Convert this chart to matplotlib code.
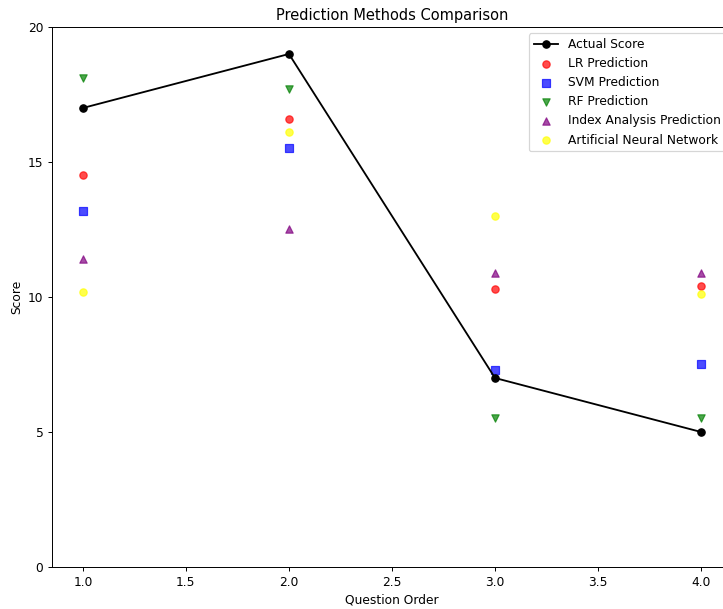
import matplotlib
matplotlib.use("Agg")
import matplotlib.pyplot as plt

questions = [1, 2, 3, 4]
actual = [17, 19, 7, 5]
lr_pred = [14.5, 16.6, 10.3, 10.4]
svm_pred = [13.2, 15.5, 7.3, 7.5]
rf_pred = [18.1, 17.7, 5.5, 5.5]
index_pred = [11.4, 12.5, 10.9, 10.9]
ann_pred = [10.2, 16.1, 13.0, 10.1]

dpi = 88
fig = plt.figure(figsize=(723 / dpi, 609 / dpi), dpi=dpi)
ax = fig.add_axes([0.0719, 0.069, 0.9405, 0.8867])

ax.plot(questions, actual, marker='o', color='black', label='Actual Score')
ax.scatter(questions, lr_pred, color='red', marker='o', alpha=0.7, label='LR Prediction')
ax.scatter(questions, svm_pred, color='blue', marker='s', alpha=0.7, label='SVM Prediction')
ax.scatter(questions, rf_pred, color='green', marker='v', alpha=0.7, label='RF Prediction')
ax.scatter(questions, index_pred, color='purple', marker='^', alpha=0.7, label='Index Analysis Prediction')
ax.scatter(questions, ann_pred, color='yellow', marker='o', alpha=0.7, label='Artificial Neural Network')

ax.set_ylim(0, 20)
ax.set_yticks([0, 5, 10, 15, 20])
ax.set_xlabel('Question Order')
ax.set_ylabel('Score')
ax.set_title('Prediction Methods Comparison')
ax.legend(loc='upper right')

fig.savefig('out.png', dpi=dpi)
